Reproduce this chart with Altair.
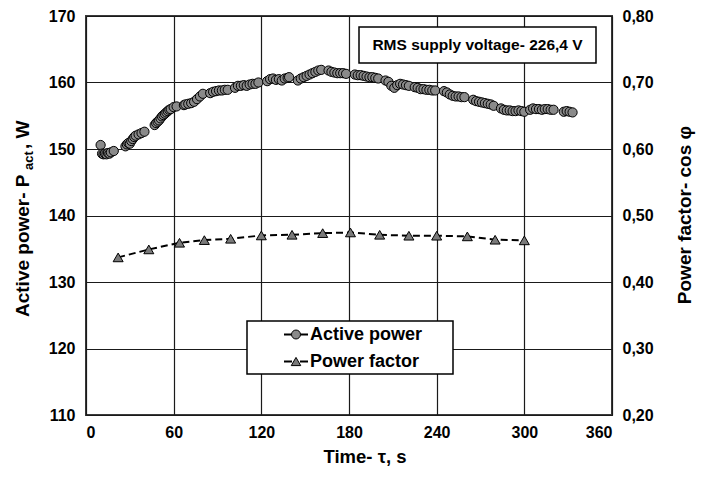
import altair as alt
import pandas as pd

# ---------------- data ----------------
time_s = [10, 11, 12, 13, 14, 15, 16, 17, 19,
          27, 28, 29, 30, 31, 32, 33, 34, 36, 38, 40,
          47, 48, 49, 50, 51, 52, 53, 54, 55, 56, 57, 58, 60, 62,
          67, 68, 70, 72, 74, 76, 78, 80,
          85, 87, 89, 91, 93, 95, 97,
          102, 104, 106, 108, 110, 112, 114, 116, 118,
          124, 126, 128, 130, 132, 134, 136, 138, 139,
          145, 147, 149, 151, 153, 155, 157, 159, 161,
          166, 168, 170, 172, 174, 176, 178,
          184, 186, 188, 190, 192, 194, 196, 198, 200,
          205, 207, 209, 211, 213, 215, 217, 219, 221,
          225, 227, 229, 231, 233, 235, 237, 239,
          245, 247, 249, 251, 253, 255, 257, 259,
          265, 267, 269, 271, 273, 275, 277, 279,
          284, 286, 288, 290, 292, 294, 296, 298, 300,
          304, 306, 308, 310, 312, 314, 316, 318, 320,
          327, 329, 331, 333]
active_power_w = [150.6, 149.3, 149.2, 149.3, 149.2, 149.4, 149.3, 149.5, 149.7,
                  150.4, 150.7, 150.9, 150.8, 151.2, 151.5, 151.8, 152.0, 152.2, 152.4, 152.6,
                  153.6, 153.9, 154.1, 154.3, 154.6, 154.9, 155.1, 155.3, 155.5, 155.7, 155.9, 156.0, 156.3, 156.4,
                  156.6, 156.7, 156.8, 156.9, 157.1, 157.5, 157.9, 158.3,
                  158.4, 158.6, 158.7, 158.8, 158.8, 158.9, 158.9,
                  159.2, 159.5, 159.5, 159.6, 159.5, 159.7, 159.8, 159.8, 160.0,
                  160.2, 160.5, 160.6, 160.4, 160.5, 160.3, 160.6, 160.7, 160.8,
                  160.3, 160.6, 160.8, 161.0, 161.2, 161.4, 161.6, 161.8, 161.9,
                  161.8, 161.6, 161.5, 161.4, 161.4, 161.4, 161.3,
                  161.2, 161.1, 161.1, 161.0, 160.9, 160.8, 160.8, 160.7, 160.6,
                  160.3, 160.1, 159.5, 159.2, 159.6, 159.8, 159.7, 159.6, 159.5,
                  159.3, 159.2, 159.0, 159.0, 158.9, 158.9, 158.8, 158.8,
                  158.7, 158.5, 158.2, 158.0, 157.9, 157.9, 157.8, 157.8,
                  157.4, 157.2, 157.1, 157.0, 156.9, 156.8, 156.7, 156.5,
                  156.1, 155.9, 155.8, 155.8, 155.7, 155.7, 155.8, 155.7, 155.6,
                  155.9, 156.1, 156.0, 156.0, 155.9, 156.0, 156.0, 155.9, 155.9,
                  155.6, 155.7, 155.6, 155.5]

pf_time_s = [22, 43, 64, 81, 99, 120, 141, 162, 181, 201, 221, 240, 261, 280, 300]
power_factor = [0.437, 0.449, 0.459, 0.463, 0.465, 0.470, 0.471, 0.4735, 0.4745,
                0.471, 0.4696, 0.4696, 0.4686, 0.4636, 0.4626]

x_ticks = [0, 60, 120, 180, 240, 300, 360]
left_ticks = [110, 120, 130, 140, 150, 160, 170]
right_ticks = [0.2, 0.3, 0.4, 0.5, 0.6, 0.7, 0.8]

x_title = "Time- τ, s"
right_title = "Power factor- cos φ"
note_text = "RMS supply voltage- 226,4 V"
legend_labels = ["Active power", "Power factor"]

# ---------------- chart ----------------
FONT = "Liberation Sans"
W, H = 526, 399

df_p = pd.DataFrame({"t": time_s, "p": active_power_w})
df_pf = pd.DataFrame({"t": pf_time_s, "pf": power_factor})
one = pd.DataFrame({"a": [0]})

x_scale = alt.Scale(domain=[0, 360], nice=False, zero=False)
lab = dict(labelFontSize=16, labelFontWeight="bold", labelColor="black", labelFont=FONT,
           ticks=False, domain=False, title=None)

x_enc = alt.X("t:Q", scale=x_scale,
              axis=alt.Axis(values=x_ticks, grid=True, labelPadding=9, **lab))

power = alt.Chart(df_p).mark_point(
    shape="circle", filled=True, fill="#8a8a8a", stroke="black",
    strokeWidth=1, size=85, opacity=1
).encode(
    x=x_enc,
    y=alt.Y("p:Q", scale=alt.Scale(domain=[110, 170], nice=False, zero=False),
            axis=alt.Axis(values=left_ticks, grid=True, orient="left", labelPadding=11, **lab)),
)

pf_y = alt.Y("pf:Q", scale=alt.Scale(domain=[0.2, 0.8], nice=False, zero=False),
             axis=alt.Axis(values=right_ticks, grid=False, orient="right", labelPadding=10,
                           labelExpr="replace(format(datum.value, '.2f'), '.', ',')", **lab))

pf_line = alt.Chart(df_pf).mark_line(color="black", strokeWidth=2, strokeDash=[7, 4]).encode(
    x=x_enc, y=pf_y)
pf_pts = alt.Chart(df_pf).mark_point(
    shape="triangle-up", filled=True, fill="#7a7a7a", stroke="black",
    strokeWidth=1, size=100, opacity=1
).encode(x=x_enc, y=pf_y)

pf_layer = alt.layer(pf_line, pf_pts)


def txt(text, x, y, size=19, angle=0, align="center", baseline="middle"):
    kw = dict(text=text, font=FONT, fontSize=size, fontWeight="bold", color="black",
              align=align, baseline=baseline)
    if angle:
        kw["angle"] = angle
    return alt.Chart(one).mark_text(**kw).encode(x=alt.value(x), y=alt.value(y))


def box(x1, x2, y1, y2):
    return alt.Chart(one).mark_rect(fill="white", stroke="black", strokeWidth=1.5).encode(
        x=alt.value(x1), x2=alt.value(x2), y=alt.value(y1), y2=alt.value(y2))


# annotation box
note = alt.layer(box(273, 510, 11, 47), txt(note_text, 391.5, 29, size=15.5))

# legend
leg_box = box(161, 367, 305, 358)
leg_r1 = alt.Chart(one).mark_rule(color="black", strokeWidth=2, strokeDash=[8, 8]).encode(
    x=alt.value(198), x2=alt.value(222), y=alt.value(318.5))
leg_r2 = alt.Chart(one).mark_rule(color="black", strokeWidth=2, strokeDash=[8, 8]).encode(
    x=alt.value(198), x2=alt.value(222), y=alt.value(345.5))
leg_c = alt.Chart(one).mark_point(shape="circle", filled=True, fill="#8a8a8a", stroke="black",
                                  strokeWidth=1, size=80, opacity=1).encode(
    x=alt.value(210), y=alt.value(318.5))
leg_t = alt.Chart(one).mark_point(shape="triangle-up", filled=True, fill="#7a7a7a", stroke="black",
                                  strokeWidth=1, size=90, opacity=1).encode(
    x=alt.value(210), y=alt.value(345.5))
legend = alt.layer(leg_box, leg_r1, leg_r2, leg_c, leg_t,
                   txt(legend_labels[0], 224, 319, size=18, align="left"),
                   txt(legend_labels[1], 224, 346, size=18, align="left"))

# axis titles
titles = alt.layer(
    txt(x_title, 279, 441, size=18.5),
    txt(right_title, 599, 199, angle=270),
    txt("Active power- P", -63, 301, angle=270, align="left"),
    txt("act", -57, 154, size=13, angle=270, align="left"),
    txt(" , W", -63, 133, angle=270, align="left"),
)

chart = alt.layer(power, pf_layer, note, legend, titles).resolve_scale(
    y="independent"
).properties(
    width=W, height=H,
    autosize="none",
    padding={"left": 78, "top": 8, "right": 84, "bottom": 54},
).configure_view(
    stroke="#3a3a3a", strokeWidth=2
).configure_axis(
    gridColor="#1a1a1a", gridWidth=1.2, gridOpacity=1
)

chart.save("out.html", embed_options={"renderer": "svg", "actions": False})
